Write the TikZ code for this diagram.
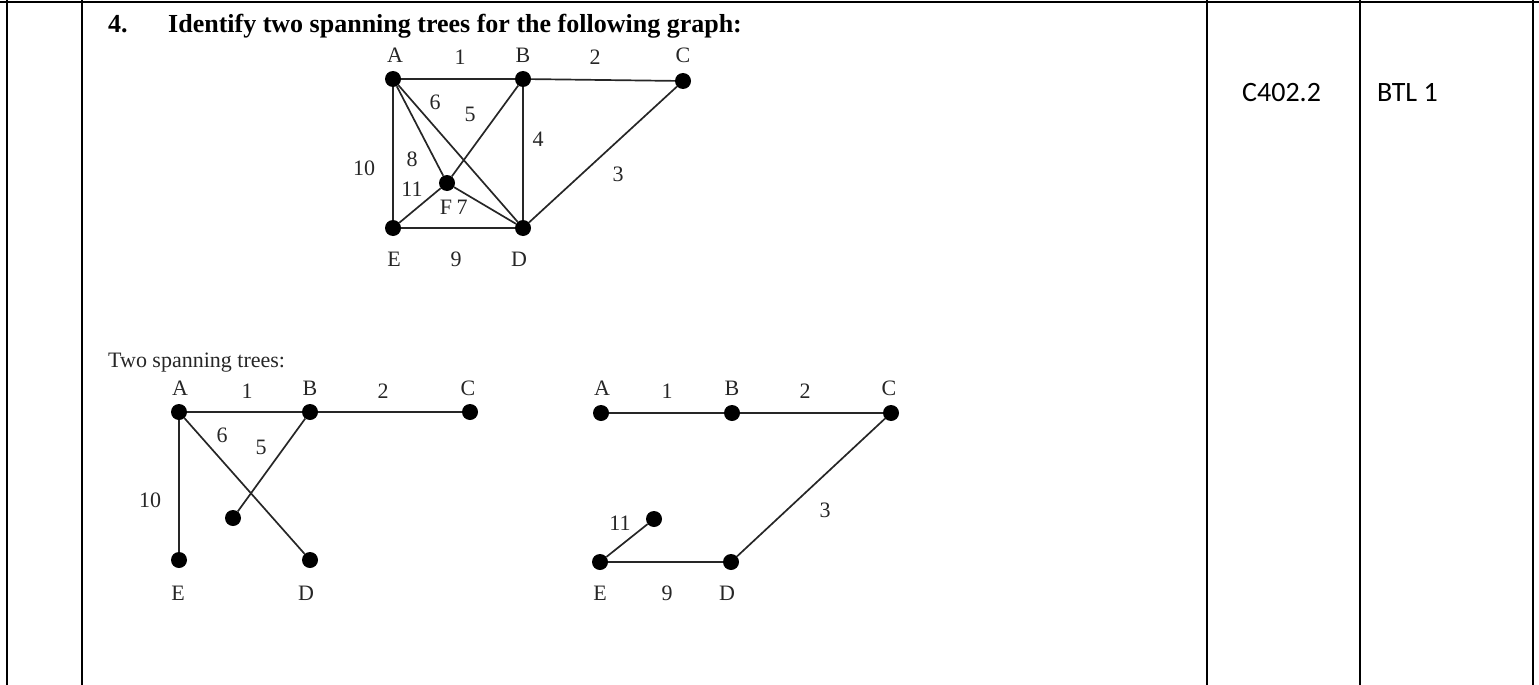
\documentclass[tikz,border=0pt]{standalone}
\usepackage{fontspec}
\setmainfont{Liberation Serif}
\newfontfamily\calfont{Carlito}
\begin{document}
\begin{tikzpicture}[x=1pt,y=-1pt,
  vtx/.style={circle,fill=black,inner sep=0pt,minimum size=16pt},
  edge/.style={line width=1.7pt,black!85},
  lbl/.style={font=\fontsize{22}{22}\selectfont,inner sep=0pt,text=black!85},
  rule/.style={line width=2.5pt,black},
  celltext/.style={font=\calfont\fontsize{28}{28}\selectfont,inner sep=0pt,anchor=base west}]
\path[use as bounding box] (0,0) rectangle (1539,685);
% table rules
\draw[rule] (0,2) -- (1539,2);
\foreach \x in {7,82,1207,1360,1533} \draw[rule] (\x,0) -- (\x,685);
% title
\node[font=\bfseries\fontsize{26}{26}\selectfont,inner sep=0pt,anchor=base west] (num) at (108,33) {4.};
\node[font=\bfseries\fontsize{26}{26}\selectfont,inner sep=0pt,anchor=base west] (title) at (168,33) {Identify two spanning trees for the following graph:};
% cells
\node[celltext] (co) at (1242,101) {C402.2};
\node[celltext] (btl) at (1377,101) {BTL 1};
% ---------- main graph ----------
\node[vtx] (A) at (393,79) {};
\node[vtx] (B) at (523,79) {};
\node[vtx] (C) at (683,81) {};
\node[vtx] (F) at (447,183) {};
\node[vtx] (E) at (393,228) {};
\node[vtx] (D) at (523,228) {};
\draw[edge] (A) -- (B);
\draw[edge] (B) -- (C);
\draw[edge] (A) -- (E);
\draw[edge] (A) -- (F);
\draw[edge] (A) -- (D);
\draw[edge] (B) -- (F);
\draw[edge] (B) -- (D);
\draw[edge] (C) -- (D);
\draw[edge] (E) -- (F);
\draw[edge] (F) -- (D);
\draw[edge] (E) -- (D);
\node[lbl] (lA) at (395,55) {A};
\node[lbl] (l1) at (460,57) {1};
\node[lbl] (lB) at (523,55) {B};
\node[lbl] (l2) at (595,57) {2};
\node[lbl] (lC) at (683,55) {C};
\node[lbl] (l6) at (435,102) {6};
\node[lbl] (l5) at (470,114) {5};
\node[lbl] (l4) at (538,139) {4};
\node[lbl] (l10) at (364,168) {10};
\node[lbl] (l8) at (412,159) {8};
\node[lbl] (l11) at (412,189) {11};
\node[lbl] (lF) at (446,207) {F};
\node[lbl] (l7) at (462,207) {7};
\node[lbl] (l3) at (618,174) {3};
\node[lbl] (lE) at (394,259) {E};
\node[lbl] (l9) at (456,259) {9};
\node[lbl] (lD) at (519,259) {D};
% ---------- caption ----------
\node[font=\fontsize{22}{22}\selectfont,inner sep=0pt,anchor=base west,text=black!85] (two) at (108,367) {Two spanning trees:};
% ---------- tree 1 ----------
\node[vtx] (A1) at (179,412) {};
\node[vtx] (B1) at (310,412) {};
\node[vtx] (C1) at (470,412) {};
\node[vtx] (F1) at (233,518) {};
\node[vtx] (E1) at (179,560) {};
\node[vtx] (D1) at (310,560) {};
\draw[edge] (A1) -- (B1);
\draw[edge] (B1) -- (C1);
\draw[edge] (A1) -- (E1);
\draw[edge] (A1) -- (D1);
\draw[edge] (B1) -- (F1);
\node[lbl] (lA1) at (180,388) {A};
\node[lbl] (l11a) at (247,391) {1};
\node[lbl] (lB1) at (310,388) {B};
\node[lbl] (l21) at (383,391) {2};
\node[lbl] (lC1) at (468,388) {C};
\node[lbl] (l61) at (222,435) {6};
\node[lbl] (l51) at (261,447) {5};
\node[lbl] (l101) at (150,500) {10};
\node[lbl] (lE1) at (178,593) {E};
\node[lbl] (lD1) at (306,593) {D};
% ---------- tree 2 ----------
\node[vtx] (A2) at (601,413) {};
\node[vtx] (B2) at (732,413) {};
\node[vtx] (C2) at (891,413) {};
\node[vtx] (F2) at (654,519) {};
\node[vtx] (E2) at (600,562) {};
\node[vtx] (D2) at (731,562) {};
\draw[edge] (A2) -- (B2);
\draw[edge] (B2) -- (C2);
\draw[edge] (C2) -- (D2);
\draw[edge] (E2) -- (D2);
\draw[edge] (E2) -- (F2);
\node[lbl] (lA2) at (602,388) {A};
\node[lbl] (l12) at (667,391) {1};
\node[lbl] (lB2) at (732,388) {B};
\node[lbl] (l22) at (805,391) {2};
\node[lbl] (lC2) at (889,388) {C};
\node[lbl] (l112) at (620,523) {11};
\node[lbl] (l32) at (825,510) {3};
\node[lbl] (lE2) at (600,593) {E};
\node[lbl] (l92) at (667,593) {9};
\node[lbl] (lD2) at (727,593) {D};
\end{tikzpicture}
\end{document}
